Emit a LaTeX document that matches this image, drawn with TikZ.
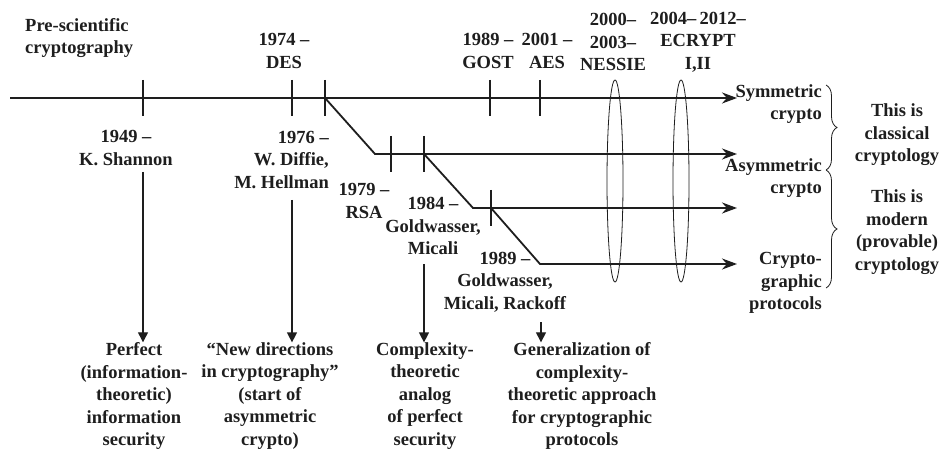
\documentclass[tikz,border=0pt]{standalone}
\usepackage{fontspec}
\setmainfont{Liberation Serif}
\usetikzlibrary{arrows.meta,shapes.geometric,decorations.pathreplacing}
\definecolor{ink}{HTML}{1E1E1E}
\begin{document}
\begin{tikzpicture}[x=1pt,y=-1pt,
  lbl/.style={font=\bfseries\fontsize{18.5}{22.5}\selectfont, align=center, text=ink, inner sep=0pt},
  tl/.style={draw=ink, line width=1.8pt, -{Stealth[length=15pt,width=11pt]}},
  tick/.style={draw=ink, line width=1.8pt},
  down/.style={draw=ink, line width=1.3pt, -{Triangle[length=10pt,width=10pt]}},
  ring/.style={ellipse, draw=ink, line width=0.8pt, minimum width=16pt, minimum height=202pt, inner sep=0pt},
  brc/.style={draw=ink, line width=0.8pt, decorate, decoration={brace, amplitude=11pt}}]
\useasboundingbox[fill=white] (0,0) rectangle (941,454);
\coordinate (s0) at (10,98);
\coordinate (s1) at (737,98);
\coordinate (t1949) at (143,98);
\coordinate (t1974) at (292,98);
\coordinate (t1976) at (325,98);
\coordinate (t1989) at (490,98);
\coordinate (t2001) at (540,98);
\coordinate (k1) at (375,154);
\coordinate (a1) at (737,154);
\coordinate (t1979) at (391,154);
\coordinate (t1984) at (424,154);
\coordinate (k2) at (473,208);
\coordinate (a2) at (737,208);
\coordinate (t1989b) at (491,208);
\coordinate (k3) at (540,264);
\coordinate (a3) at (737,264);
\coordinate (d1949) at (143,172);
\coordinate (d1974) at (292,200);
\coordinate (d1984) at (424,264);
\coordinate (d1989) at (541,322);
\coordinate (b0) at (826,85);
\coordinate (b1) at (826,170);
\coordinate (b2) at (826,288);
\node[ring] (nessie) at (615,181){};
\node[ring] (ecrypt) at (681,181){};
\draw[tl] (s0) -- (s1);
\draw[tl] (t1976) -- (k1) -- (a1);
\draw[tl] (t1984) -- (k2) -- (a2);
\draw[tl] (t1989b) -- (k3) -- (a3);
\foreach \t in {t1949,t1974,t1976,t1989,t2001,t1979,t1984,t1989b}
  \draw[tick] (\t) ++(0,-18) -- ++(0,36);
\node[lbl, align=left, anchor=west] (pre) at (25,38) {Pre-scientific\\cryptography};
\node[lbl] (des) at (284,51) {1974 --\\DES};
\node[lbl] (gost) at (488,51) {1989 --\\GOST};
\node[lbl] (aes) at (547,51) {2001 --\\AES};
\node[lbl] (nessiel) at (613,42) {2000--\\2003--\\NESSIE};
\node[lbl] (ecryptl) at (698,42) {2004--\,2012--\\ECRYPT\\I,II};
\node[lbl] (shannon) at (126,148) {1949 --\\K. Shannon};
\node[lbl, align=right, anchor=east] (diffie) at (329,160) {1976 --\\W. Diffie,\\M. Hellman};
\node[lbl] (rsa) at (364,201) {1979 --\\RSA};
\node[lbl] (gm) at (433,226) {1984 --\\Goldwasser,\\Micali};
\node[lbl] (gmr) at (505,282) {1989 --\\Goldwasser,\\Micali, Rackoff};
\node[lbl, align=right, anchor=east] (sym) at (822,104) {Symmetric\\crypto};
\node[lbl, align=right, anchor=east] (asym) at (822,178) {Asymmetric\\crypto};
\node[lbl, align=right, anchor=east] (proto) at (822,283) {Crypto-\\graphic\\protocols};
\node[lbl] (classic) at (897,135) {This is\\classical\\cryptology};
\node[lbl] (modern) at (897,232) {This is\\modern\\(provable)\\cryptology};
\node[lbl] (perfect) at (134,396) {Perfect\\(information-\\theoretic)\\information\\security};
\node[lbl] (newdir) at (270,396) {``New directions\\in cryptography''\\(start of\\asymmetric\\crypto)};
\node[lbl] (cplx) at (425,396) {Complexity-\\theoretic\\analog\\of perfect\\security};
\node[lbl] (gen) at (582,396) {Generalization of\\complexity-\\theoretic approach\\for cryptographic\\protocols};
\draw[brc] (b0) -- (b1);
\draw[brc] (b1) -- (b2);
\draw[down] (d1949) -- (perfect.north -| d1949);
\draw[down] (d1974) -- (newdir.north -| d1974);
\draw[down] (d1984) -- (cplx.north -| d1984);
\draw[down] (d1989) -- (gen.north -| d1989);
\end{tikzpicture}
\end{document}
